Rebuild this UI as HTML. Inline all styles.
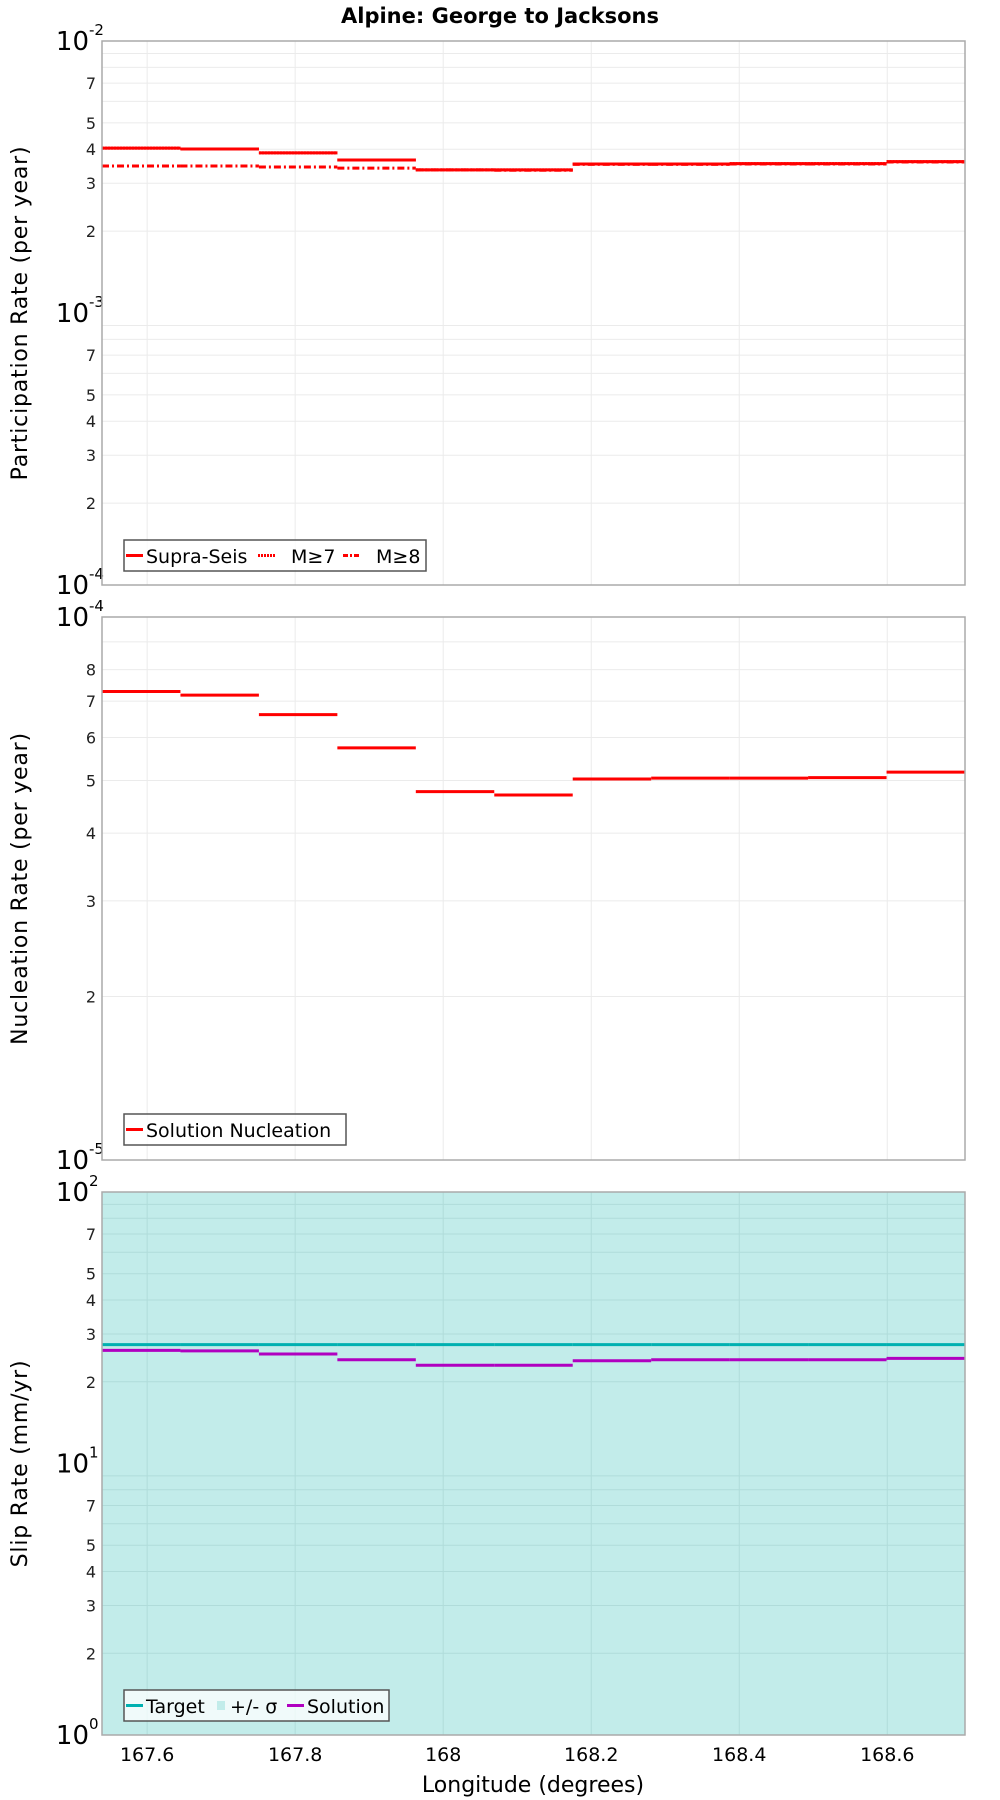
<!DOCTYPE html>
<html><head><meta charset="utf-8"><style>
body{margin:0;background:#fff;}
svg{display:block;font-family:"DejaVu Sans","Liberation Sans",sans-serif;}
</style></head><body>
<svg id="chart" width="1000" height="1800" viewBox="0 0 1000 1800"></svg>
<script>
const binEdges=[167.539,167.645,167.751,167.857,167.963,168.069,168.175,168.281,168.387,168.493,168.599,168.705];
const supraSeis=[4.04e-3,4.01e-3,3.88e-3,3.65e-3,3.36e-3,3.36e-3,3.53e-3,3.53e-3,3.54e-3,3.54e-3,3.60e-3];
const m7=[4.04e-3,4.01e-3,3.88e-3,3.65e-3,3.36e-3,3.36e-3,3.53e-3,3.53e-3,3.54e-3,3.54e-3,3.60e-3];
const m8=[3.47e-3,3.47e-3,3.44e-3,3.41e-3,3.36e-3,3.35e-3,3.52e-3,3.52e-3,3.53e-3,3.53e-3,3.59e-3];
const nucleation=[7.29e-5,7.18e-5,6.61e-5,5.74e-5,4.77e-5,4.70e-5,5.03e-5,5.05e-5,5.05e-5,5.06e-5,5.18e-5];
const targetSlip=[27.4,27.4,27.4,27.4,27.4,27.4,27.4,27.4,27.4,27.4,27.4];
const solutionSlip=[26.1,26.0,25.3,24.1,23.0,23.0,23.9,24.1,24.1,24.1,24.4];
const xTicks=[167.6,167.8,168.0,168.2,168.4,168.6];
const xTickLabels=["167.6","167.8","168","168.2","168.4","168.6"];
const minorLabels=[2,3,4,5,7];
const minorLabelsWide=[2,3,4,5,6,7,8];

const NS="http://www.w3.org/2000/svg";
const svg=document.getElementById('chart');
const L=102,R=965,XMIN=167.539,XMAX=168.705;
function xs(v){return L+(v-XMIN)/(XMAX-XMIN)*(R-L);}
function mk(tag,attrs,parent){const e=document.createElementNS(NS,tag);for(const k in attrs)e.setAttribute(k,attrs[k]);(parent||svg).appendChild(e);return e;}

const t=mk('text',{x:500,y:23,'text-anchor':'middle','font-size':21,'font-weight':'bold'});


t.textContent='Alpine: George to Jacksons';

function panel(name,top,bot,lo,hi,title,bg,labels){
  const g=mk('g',{});
  
  
  const ys=v=>bot-(Math.log10(v)-lo)/(hi-lo)*(bot-top);
  mk('rect',{x:L,y:top,width:R-L,height:bot-top,fill:bg||'#fff'},g);
  for(let d=lo;d<hi;d++){for(let m=2;m<=9;m++){const y=ys(m*Math.pow(10,d));
    mk('line',{x1:L,x2:R,y1:y,y2:y,stroke:bg?'#b0dcda':'#ebebeb','stroke-width':1},g);}}
  xTicks.forEach(v=>{const x=xs(v);mk('line',{x1:x,x2:x,y1:top,y2:bot,stroke:bg?'#b0dcda':'#ebebeb','stroke-width':1},g);});
  for(let d=lo;d<hi;d++){labels.forEach(m=>{const y=ys(m*Math.pow(10,d));
    const tx=mk('text',{x:96,y:y+6,'text-anchor':'end','font-size':16,fill:'#222'},g);tx.textContent=m;});}
  for(let d=lo;d<=hi;d++){const y=ys(Math.pow(10,d));
    const tx=mk('text',{x:89,y:y+9,'text-anchor':'end','font-size':26},g);tx.textContent='10';
    const sp=mk('text',{x:89,y:y-6,'text-anchor':'start','font-size':15},g);sp.textContent=String(d);}
  const yt=mk('text',{x:0,y:0,'text-anchor':'middle','font-size':22,'letter-spacing':'0.8',transform:`translate(27,${(top+bot)/2}) rotate(-90)`},g);
  
  
  yt.textContent=title;
  return {g,ys,top,bot};
}
function steps(p,vals,color,w,dash,nm){
  const g=mk('g',{},p.g);
  
  
  vals.forEach((v,i)=>{const y=p.ys(v);
    const ln=mk('line',{x1:xs(binEdges[i]),x2:xs(binEdges[i+1]),y1:y,y2:y,stroke:color,'stroke-width':w},g);
    if(dash)ln.setAttribute('stroke-dasharray',dash);
    
    });
}
function border(p){mk('rect',{x:L,y:p.top,width:R-L,height:p.bot-p.top,fill:'none',stroke:'#aaa','stroke-width':1.5},p.g);}
function legend(p,x,y,w,items){
  const g=mk('g',{},p.g);
  
  
  mk('rect',{x:x,y:y,width:w,height:31,fill:'rgba(255,255,255,0.75)',stroke:'#555','stroke-width':1.5},g);
  items.forEach(it=>{
    if(it.box){mk('rect',{x:it.x,y:y+11,width:8,height:9,fill:it.color},g);}
    else{const ln=mk('line',{x1:it.x,x2:it.x+17,y1:y+15.5,y2:y+15.5,stroke:it.color,'stroke-width':3},g);if(it.dash)ln.setAttribute('stroke-dasharray',it.dash);}
    const tx=mk('text',{x:it.tx,y:y+23,'font-size':19},g);
    
    
    tx.textContent=it.label;});
}

const p1=panel('participation-panel',41,585,-4,-2,'Participation Rate (per year)',null,minorLabels);
steps(p1,m8,'#f00',3,'7,3,2,3','m8-series');
steps(p1,m7,'#f00',3,'2,1','m7-series');
steps(p1,supraSeis,'#f00',3,null,'supra-seis-series');
border(p1);
legend(p1,124,540,302,[{x:126,tx:146,color:'#f00',label:'Supra-Seis'},{x:258,tx:291,color:'#f00',dash:'2,1',label:'M≥7'},{x:343,tx:376,color:'#f00',dash:'5,2,2,2',label:'M≥8'}]);

const p2=panel('nucleation-panel',617,1160,-5,-4,'Nucleation Rate (per year)',null,minorLabelsWide);
steps(p2,nucleation,'#f00',3,null,'nucleation-series');
border(p2);
legend(p2,124,1114,222,[{x:126,tx:146,color:'#f00',label:'Solution Nucleation'}]);

const p3=panel('slip-rate-panel',1192,1735,0,2,'Slip Rate (mm/yr)','#c2ecea',minorLabels);
steps(p3,targetSlip,'#00b0b0',3,null,'target-series');
steps(p3,solutionSlip,'#b000c0',3,null,'solution-series');
border(p3);
legend(p3,124,1690,265,[{x:126,tx:146,color:'#00b0b0',label:'Target'},{x:217,tx:230,color:'#c2ecea',box:true,label:'+/- σ'},{x:287,tx:307,color:'#b000c0',label:'Solution'}]);

xTicks.forEach((v,i)=>{const tx=mk('text',{x:xs(v),y:1761,'text-anchor':'middle','font-size':19});
  
  
  tx.textContent=xTickLabels[i];});
const xt=mk('text',{x:533,y:1792,'text-anchor':'middle','font-size':22});


xt.textContent='Longitude (degrees)';
</script>
</body></html>
